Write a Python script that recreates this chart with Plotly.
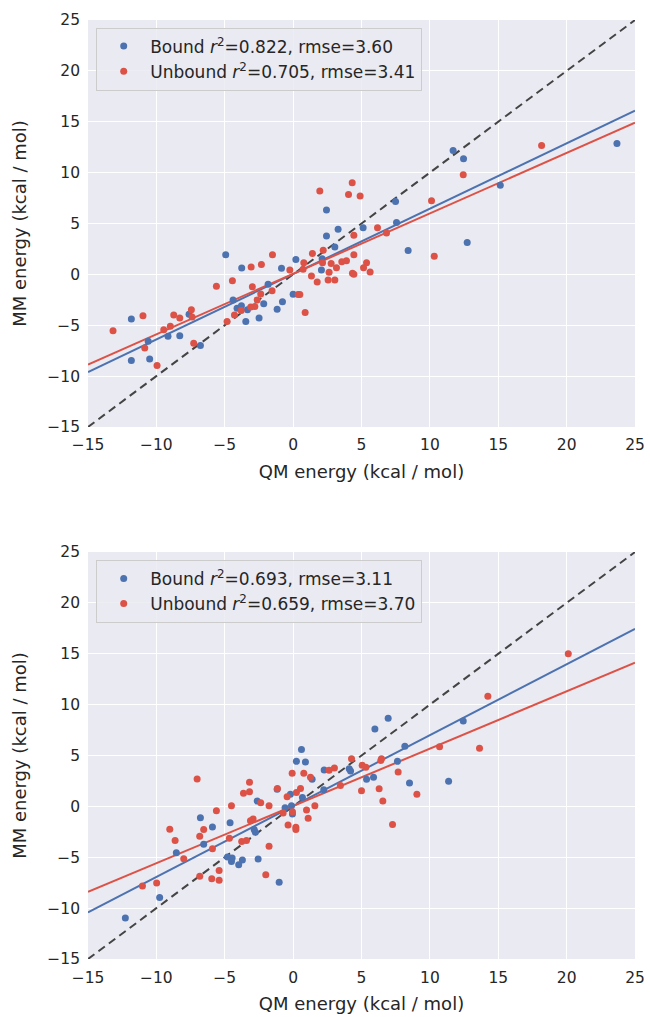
import plotly.graph_objects as go
from plotly.subplots import make_subplots

# Dados (QM x MM, kcal/mol)
bound_a_qm = [-11.83, -10.6, -11.83, -10.49, -9.15, -8.29, -7.61, -6.78, -4.93, -4.39, -4.1, -3.78, -3.34,
              -3.46, -3.76, -2.49, -2.15, -1.83, -1.17, -0.78, -0.85, 0.0, 0.2, 2.07, 2.12, 2.44, 3.05, 3.29,
              2.44, 7.49, 7.56, 11.7, 12.46, 23.68, 15.15, 5.12, 8.41, 12.73]
bound_a_mm = [-4.40, -6.58, -8.47, -8.31, -6.09, -6.03, -3.91, -7.0, 1.92, -2.51, -3.32, -3.09, -3.49,
              -4.63, 0.62, -4.3, -2.9, -0.98, -3.42, -2.7, 0.59, -1.95, 1.47, 0.42, 1.53, 3.78, 2.7, 4.43,
              6.32, 7.17, 5.1, 12.18, 11.37, 12.87, 8.76, 4.59, 2.35, 3.13]
unbound_a_qm = [-13.17, -10.98, -10.85, -9.95, -9.46, -8.98, -8.73, -8.29, -7.44, -7.39, -7.27, -5.61, -4.83,
                -4.44, -4.29, -3.8, -3.07, -2.98, -3.1, -2.8, -2.63, -2.32, -2.37, -1.51, -1.54, -0.24, 0.37,
                0.49, 0.88, 0.78, 0.73, 1.41, 2.2, 1.34, 1.76, 2.15, 2.63, 2.78, 2.56, 3.05, 3.17, 3.56, 3.9,
                4.34, 4.44, 4.44, 4.44, 1.95, 4.32, 4.05, 4.9, 10.12, 12.44, 18.17, 6.17, 6.83, 5.37, 5.15,
                5.63, 10.32]
unbound_a_mm = [-5.54, -4.07, -7.23, -8.96, -5.44, -5.11, -4.0, -4.3, -3.49, -4.2, -6.78, -1.17, -4.63,
                -0.62, -4.0, -3.55, 0.72, -1.21, -3.22, -3.16, -2.51, 0.98, -1.92, 1.92, -1.6, 0.42, -1.99,
                -1.99, -3.75, 1.14, 0.49, 2.05, 2.38, -0.16, -0.75, 1.14, 0.2, 1.07, -0.55, -0.55, 0.65, 1.24,
                1.34, 0.1, 0.0, 1.92, 3.84, 8.2, 9.0, 7.85, 7.7, 7.23, 9.8, 12.67, 4.59, 4.07, 1.14, 0.65,
                0.23, 1.79]

bound_b_qm = [0.61, 0.24, 0.9, 1.39, 0.68, -0.2, -0.12, -0.59, -0.05, -1.17, -2.63, -2.76, -2.85, -2.56,
              -1.02, -3.71, -3.98, -4.51, -4.46, -4.8, -4.61, -5.9, -6.78, -6.54, -8.54, -9.76, -12.27, 2.27,
              2.24, 4.1, 4.2, 12.44, 5.98, 6.95, 8.17, 7.63, 5.37, 5.88, 8.51, 11.37]
bound_b_mm = [5.59, 4.43, 4.36, 2.67, 0.88, 1.2, 0.07, -0.13, -0.75, 1.69, 0.52, -2.54, -2.28, -5.18,
              -7.46, -5.28, -5.73, -5.41, -5.08, -4.98, -1.6, -2.02, -1.11, -3.71, -4.56, -8.96, -10.98, 3.58,
              1.63, 3.71, 3.49, 8.4, 7.61, 8.66, 5.92, 4.43, 2.67, 2.87, 2.31, 2.48]
unbound_b_qm = [-7.02, -5.61, -4.51, -6.54, -6.83, -9.02, -8.63, -8.0, -11.02, -9.98, -6.83, -5.95, -5.41,
                -5.41, -5.9, -4.66, -3.76, -3.41, -3.63, -3.19, -3.19, -3.12, -2.93, -2.37, -1.76, -1.76,
                -2.0, -1.15, -0.44, -0.73, -0.37, 0.2, 0.2, -0.05, -0.07, 0.24, 0.54, 0.78, 1.27, 0.98, 1.1,
                1.59, 2.63, 3.02, 3.46, 4.27, 5.0, 20.12, 14.24, 10.71, 13.63, 6.46, 6.41, 5.05, 5.32, 7.68,
                6.29, 6.56, 9.05, 7.27]
unbound_b_mm = [2.7, -0.42, 0.07, -2.28, -2.93, -2.25, -3.36, -5.15, -7.82, -7.52, -6.87, -7.1, -7.26,
                -6.29, -4.17, -3.13, -3.45, -3.36, 1.3, 1.43, 2.38, -1.4, -1.24, 0.36, 0.07, -3.91, -6.71,
                1.76, 0.94, -0.65, -1.82, -2.05, -2.28, -0.52, 3.26, 1.37, 1.76, 3.26, 2.87, -0.36, -1.17,
                0.07, 3.55, 3.78, 2.05, 4.69, 1.53, 15.0, 10.82, 5.85, 5.72, 4.69, 4.5, 4.04, 3.84, 3.39,
                1.73, 0.52, 1.2, -1.79]

# Retas de regressão (inclinação, intercepto)
fit_bound = [(0.6425, 0.03), (0.697, 0.03)]
fit_unbound = [(0.594, 0.05), (0.563, 0.045)]

labels_bound = ["Bound <i>r</i><sup>2</sup>=0.822, rmse=3.60", "Bound <i>r</i><sup>2</sup>=0.693, rmse=3.11"]
labels_unbound = ["Unbound <i>r</i><sup>2</sup>=0.705, rmse=3.41", "Unbound <i>r</i><sup>2</sup>=0.659, rmse=3.70"]

axis_range = [-15, 25]
ticks = [-15, -10, -5, 0, 5, 10, 15, 20, 25]

BLUE = "#4C72B0"
RED = "#DD5246"
FONT = "DejaVu Sans"

fig = make_subplots(rows=2, cols=1, vertical_spacing=0.1332)

panels = [
    (bound_a_qm, bound_a_mm, unbound_a_qm, unbound_a_mm),
    (bound_b_qm, bound_b_mm, unbound_b_qm, unbound_b_mm),
]

for i, (bx, by, ux, uy) in enumerate(panels):
    row = i + 1
    leg = "legend" if i == 0 else "legend2"
    # linha y = x
    fig.add_trace(go.Scatter(x=axis_range, y=axis_range, mode="lines", showlegend=False,
                             line=dict(color="#444444", width=2, dash="8px,5px"), hoverinfo="skip"),
                  row=row, col=1)
    for (m, b), color in [(fit_bound[i], BLUE), (fit_unbound[i], RED)]:
        fig.add_trace(go.Scatter(x=axis_range, y=[m * v + b for v in axis_range], mode="lines",
                                 showlegend=False, line=dict(color=color, width=2), hoverinfo="skip"),
                      row=row, col=1)
    fig.add_trace(go.Scatter(x=bx, y=by, mode="markers", name=labels_bound[i], legend=leg,
                             marker=dict(color=BLUE, size=7)), row=row, col=1)
    fig.add_trace(go.Scatter(x=ux, y=uy, mode="markers", name=labels_unbound[i], legend=leg,
                             marker=dict(color=RED, size=7)), row=row, col=1)

axis_style = dict(range=axis_range, tickvals=ticks, showgrid=True, gridcolor="white", gridwidth=1.3,
                  zeroline=False, showline=False, ticks="", ticklabelstandoff=7, automargin=False,
                  tickfont=dict(size=15.5, color="#262626", family=FONT))
title_font = dict(size=18, color="#262626", family=FONT)
for r in (1, 2):
    fig.update_xaxes(**axis_style, title=dict(text="QM energy (kcal / mol)", font=title_font, standoff=11),
                     row=r, col=1)
    fig.update_yaxes(**axis_style, title=dict(text="MM energy (kcal / mol)", font=title_font, standoff=15),
                     row=r, col=1)

legend_style = dict(x=0.015, xanchor="left", yanchor="top", bgcolor="rgba(234,234,242,0.85)",
                    bordercolor="#CCCCCC", borderwidth=1, font=dict(size=17, color="#262626", family=FONT),
                    tracegroupgap=0, itemsizing="trace", itemwidth=43)

fig.update_layout(
    width=650, height=1017,
    margin=dict(l=88, r=15, t=20, b=58),
    plot_bgcolor="#EAEAF2",
    paper_bgcolor="white",
    font=dict(family=FONT, color="#262626"),
    legend=dict(**legend_style, y=0.992),
    legend2=dict(**legend_style, y=0.425),
)

fig.write_html("out.html", config={"displayModeBar": False},
               post_script="document.body.style.margin='0';document.body.style.overflow='hidden';")
